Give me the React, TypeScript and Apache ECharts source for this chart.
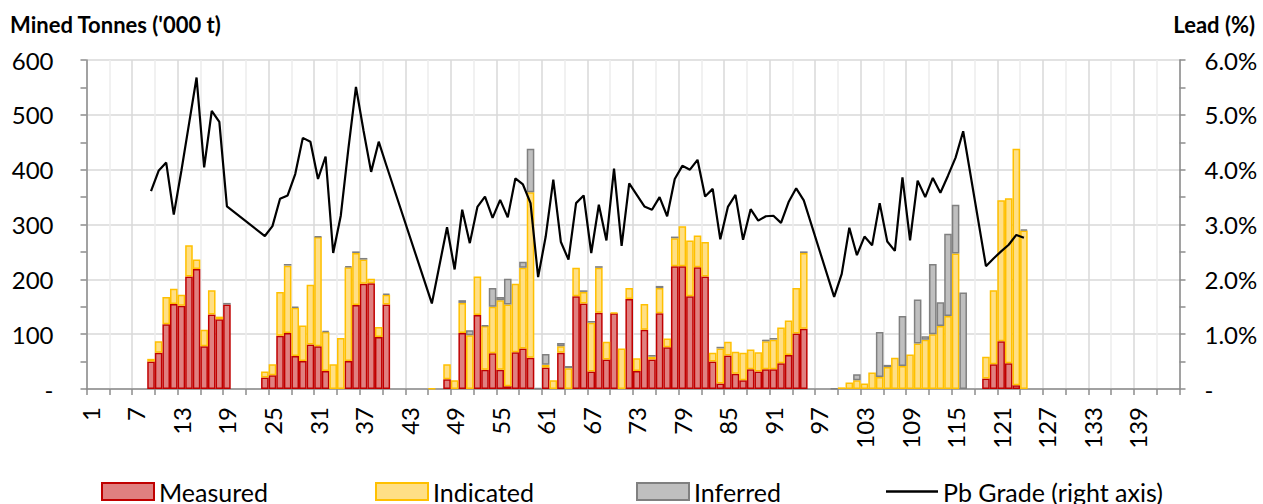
import React, { useEffect, useRef } from "react";
import * as echarts from "echarts";

// Categories 1..144 (mine sequence periods)
const categoryCount = 144;
const categories: string[] = Array.from({ length: categoryCount }, (_, i) => String(i + 1));
const firstCat = 9; // data arrays below start at category 9 and end at 124

// Mined tonnes ('000 t), categories 9..124
const measured = [
  50, 66, 118, 155, 152, 205, 219, 78, 136, 127,
  154, 0, 0, 0, 0, 21, 25, 97, 102, 60,
  51, 81, 78, 33, 0, 0, 51, 153, 192, 193,
  95, 154, 0, 0, 0, 0, 0, 0, 0, 18,
  0, 102, 0, 135, 35, 65, 35, 5, 67, 74,
  57, 0, 39, 0, 66, 0, 169, 156, 32, 139,
  54, 138, 0, 164, 33, 108, 54, 138, 76, 224,
  224, 169, 222, 205, 50, 10, 61, 28, 16, 36,
  32, 36, 36, 47, 62, 101, 110, 0, 0, 0,
  0, 0, 0, 0, 0, 0, 0, 0, 0, 0,
  0, 0, 0, 0, 0, 0, 0, 0, 0, 0,
  19, 45, 87, 47, 7, 0,
];
const indicated = [
  5, 21, 50, 28, 20, 57, 17, 30, 44, 5,
  0, 0, 0, 0, 0, 11, 20, 80, 123, 88,
  65, 109, 199, 71, 45, 93, 171, 95, 44, 8,
  18, 18, 0, 0, 0, 0, 0, 1, 0, 27,
  16, 55, 98, 70, 80, 85, 127, 149, 125, 147,
  302, 0, 5, 16, 12, 38, 52, 21, 89, 82,
  32, 1, 74, 20, 23, 47, 5, 46, 16, 51,
  73, 102, 58, 63, 16, 64, 25, 40, 50, 36,
  35, 51, 54, 65, 63, 83, 138, 0, 0, 0,
  0, 3, 12, 16, 10, 30, 22, 40, 57, 42,
  63, 83, 90, 100, 115, 133, 247, 0, 0, 0,
  40, 135, 257, 301, 431, 289,
];
const inferred = [
  0, 0, 0, 0, 0, 0, 0, 0, 0, 0,
  3, 0, 0, 0, 0, 0, 0, 0, 3, 2,
  0, 0, 1, 2, 0, 0, 2, 3, 3, 0,
  0, 2, 0, 0, 0, 0, 0, 0, 0, 0,
  0, 5, 9, 0, 1, 34, 6, 47, 0, 11,
  79, 2, 20, 0, 6, 4, 0, 3, 3, 3,
  0, 0, 0, 0, 0, 0, 3, 4, 0, 3,
  0, 0, 0, 0, 0, 3, 0, 0, 0, 0,
  0, 3, 3, 0, 0, 0, 3, 0, 0, 0,
  1, 0, 0, 11, 0, 0, 82, 4, 0, 91,
  0, 80, 6, 128, 43, 150, 89, 176, 0, 0,
  0, 0, 0, 0, 0, 2,
];
// Pb grade (%), categories 9..124
const pbGrade: (number | null)[] = [
  3.61, 3.98, 4.13, 3.18, 3.98, 4.83, 5.68, 4.04, 5.07, 4.87,
  3.33, null, null, null, null, 2.79, 2.97, 3.47, 3.53, 3.92,
  4.58, 4.51, 3.83, 4.24, 2.48, 3.16, 4.38, 5.51, 4.71, 3.96,
  4.51, 4.08, null, null, null, null, null, 1.56, null, 2.95,
  2.18, 3.27, 2.66, 3.32, 3.51, 3.12, 3.45, 3.13, 3.84, 3.73,
  3.39, 2.04, 2.78, 3.82, 2.68, 2.36, 3.39, 3.53, 2.48, 3.36,
  2.71, 4.02, 2.61, 3.75, 3.54, 3.33, 3.27, 3.5, 3.15, 3.83,
  4.07, 4.0, 4.18, 3.51, 3.65, 2.73, 3.32, 3.54, 2.72, 3.28,
  3.07, 3.15, 3.16, 3.03, 3.41, 3.66, 3.44, null, null, null,
  1.68, 2.1, 2.94, 2.44, 2.78, 2.62, 3.39, 2.69, 2.52, 3.86,
  2.71, 3.8, 3.5, 3.85, 3.58, 3.89, 4.22, 4.7, null, null,
  2.24, 2.38, 2.51, 2.63, 2.81, 2.76,
];

const leftTicks = { min: 0, max: 600, interval: 100 };
const rightTicks = { min: 0, max: 6, interval: 1 };

function place(arr: (number | null)[], zeroToNull: boolean): (number | null)[] {
  const out: (number | null)[] = new Array(categoryCount).fill(null);
  arr.forEach((v, k) => {
    out[firstCat - 1 + k] = zeroToNull && v === 0 ? null : v;
  });
  return out;
}

const FONT = "Lato";
const AXIS_COLOR = "#8C8C8C";

export default function App() {
  const ref = useRef<HTMLDivElement>(null);
  useEffect(() => {
    document.body.style.margin = "0";
    if (!ref.current) return;
    const chart = echarts.init(ref.current, undefined, { renderer: "svg" });
    const barBase = {
      type: "bar" as const,
      stack: "tonnes",
      barCategoryGap: "0%",
      barGap: "0%",
    };
    const legendText = { fontSize: 25, fontFamily: FONT, color: "#000" };
    const legendBase = {
      top: 479,
      padding: 0,
      itemGap: 0,
      itemWidth: 52,
      itemHeight: 17,
      textStyle: legendText,
    };
    chart.setOption({
      animation: false,
      grid: { left: 86.5, right: 83.5, top: 60, bottom: 115 },
      xAxis: {
        type: "category",
        data: categories,
        boundaryGap: true,
        axisLine: { show: true, lineStyle: { color: AXIS_COLOR, width: 1.5 } },
        axisTick: { show: true, interval: 2, length: 6, lineStyle: { color: AXIS_COLOR, width: 1.5 } },
        axisLabel: {
          interval: 5,
          rotate: 90,
          margin: 18,
          fontSize: 24,
          fontFamily: FONT,
          color: "#000",
        },
        splitLine: {
          show: true,
          interval: 2,
          lineStyle: { color: ["#D9D9D9", "#EDEDED"], width: 1.5 },
        },
      },
      yAxis: [
        {
          type: "value",
          ...leftTicks,
          axisLine: { show: true, lineStyle: { color: AXIS_COLOR, width: 1.5 } },
          axisTick: { show: true, length: 6, lineStyle: { color: AXIS_COLOR, width: 1.5 } },
          minorTick: { show: true, splitNumber: 2, length: 6, lineStyle: { color: AXIS_COLOR, width: 1.5 } },
          splitLine: { show: true, lineStyle: { color: "#D9D9D9", width: 1.5 } },
          axisLabel: {
            margin: 33,
            fontSize: 24,
            fontFamily: FONT,
            color: "#000",
            formatter: (v: number) => (v === 0 ? "-" : String(v)),
          },
        },
        {
          type: "value",
          ...rightTicks,
          position: "right",
          axisLine: { show: true, lineStyle: { color: AXIS_COLOR, width: 1.5 } },
          axisTick: { show: true, length: 6, lineStyle: { color: AXIS_COLOR, width: 1.5 } },
          minorTick: { show: true, splitNumber: 2, length: 6, lineStyle: { color: AXIS_COLOR, width: 1.5 } },
          splitLine: { show: false },
          axisLabel: {
            margin: 25,
            fontSize: 24,
            fontFamily: FONT,
            color: "#000",
            formatter: (v: number) => (v === 0 ? "-" : v.toFixed(1) + "%"),
          },
        },
      ],
      legend: [
        { ...legendBase, left: 101, data: [{ name: "Measured", icon: "rect" }] },
        { ...legendBase, left: 375, data: [{ name: "Indicated", icon: "rect" }] },
        { ...legendBase, left: 636, data: [{ name: "Inferred", icon: "rect" }] },
        {
          ...legendBase,
          left: 886,
          itemHeight: 2.5,
          data: [
            {
              name: "Pb Grade (right axis)",
              icon: "rect",
              itemStyle: { color: "#000", borderWidth: 0 },
            },
          ],
        },
      ],
      graphic: [
        {
          type: "text",
          x: 10,
          y: 24,
          style: {
            text: "Mined Tonnes ('000 t)",
            fontSize: 22,
            fontWeight: "bold",
            fontFamily: FONT,
            fill: "#000",
            verticalAlign: "middle",
          },
        },
        {
          type: "text",
          x: 1255,
          y: 24,
          style: {
            text: "Lead (%)",
            fontSize: 22,
            fontWeight: "bold",
            fontFamily: FONT,
            fill: "#000",
            align: "right",
            verticalAlign: "middle",
          },
        },
      ],
      series: [
        {
          ...barBase,
          name: "Measured",
          data: place(measured, true),
          itemStyle: { color: "#E08080", borderColor: "#C00000", borderWidth: 1.5 },
        },
        {
          ...barBase,
          name: "Indicated",
          data: place(indicated, true),
          itemStyle: { color: "#FFDF85", borderColor: "#FFC000", borderWidth: 1.5 },
        },
        {
          ...barBase,
          name: "Inferred",
          data: place(inferred, true),
          itemStyle: { color: "#BFBFBF", borderColor: "#808080", borderWidth: 1.5 },
        },
        {
          type: "line",
          name: "Pb Grade (right axis)",
          yAxisIndex: 1,
          data: place(pbGrade, false),
          connectNulls: true,
          symbol: "none",
          z: 10,
          lineStyle: { color: "#000", width: 2.2 },
          itemStyle: { color: "#000" },
        },
      ],
    });
    return () => chart.dispose();
  }, []);
  return <div ref={ref} style={{ width: 1263, height: 504, overflow: "hidden" }} />;
}
